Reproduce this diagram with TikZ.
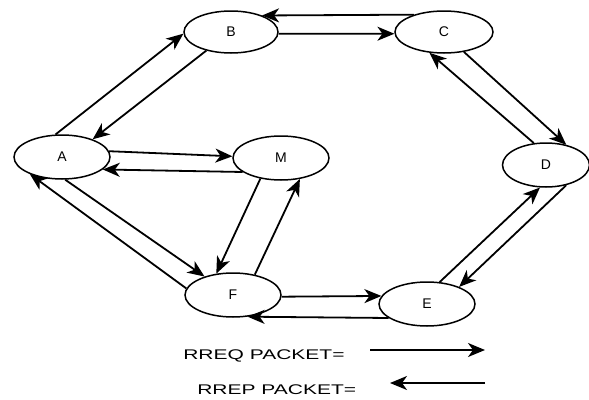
\documentclass[tikz,border=0pt]{standalone}
\usepackage{fontspec}
\setmainfont{Liberation Sans}
\usetikzlibrary{arrows.meta,shapes.geometric}

\tikzset{
  host/.style={draw, ellipse, line width=1.5pt, minimum width=96pt, minimum height=44pt,
    inner sep=0pt, font=\fontsize{14}{14}\selectfont},
  pkt/.style={line width=1.8pt, -{Stealth[length=17pt,width=14pt,inset=5pt]}},
  legend/.style={font=\fontsize{14}{14}\selectfont, xscale=1.5, inner sep=0pt, anchor=base west}
}

\begin{document}
\begin{tikzpicture}[x=1pt,y=-1pt]
    \useasboundingbox (0,0) rectangle (589,399);

    % hosts
    \node[host] (A) at (62,157)  {A};
    \node[host, minimum width=94pt, minimum height=42pt] (B) at (231,32) {B};
    \node[host, minimum width=98pt, minimum height=42pt] (C) at (444,32) {C};
    \node[host, minimum width=87pt] (D) at (546,165) {D};
    \node[host] (E) at (427,304) {E};
    \node[host] (F) at (233,295) {F};
    \node[host] (M) at (281,158) {M};

    % request / reply pairs
    \draw[pkt] (A.106) -- (B.182);
    \draw[pkt] (B.217) -- (A.30);
    \draw[pkt] (B.-2)  -- (C.182);
    \draw[pkt] (C.150) -- (B.28);
    \draw[pkt] (C.-45) -- (D.45);
    \draw[pkt] (D.119) -- (C.235);
    \draw[pkt] (D.-45) -- (E.28);
    \draw[pkt] (E.60)  -- (D.255);
    \draw[pkt] (F.-2)  -- (E.170);
    \draw[pkt] (E.200) -- (F.-56);
    \draw[pkt] (A.-82) -- (F.147);
    \draw[pkt] (F.172) -- (A.208);
    \draw[pkt] (A.7)   -- (M.178);
    \draw[pkt] (M.200) -- (A.-17);
    \draw[pkt] (M.225) -- (F.128);
    \draw[pkt] (F.43)  -- (M.-48);

    % legend
    \node[legend] (rreq) at (183,359) {RREQ PACKET=};
    \node[legend] (rrep) at (197,394) {RREP PACKET=};
    \coordinate (rreq0) at (370,350);
    \coordinate (rreq1) at (485,350);
    \coordinate (rrep0) at (485,383);
    \coordinate (rrep1) at (390,383);
    \draw[pkt] (rreq0) -- (rreq1);
    \draw[pkt] (rrep0) -- (rrep1);

\end{tikzpicture}
\end{document}
